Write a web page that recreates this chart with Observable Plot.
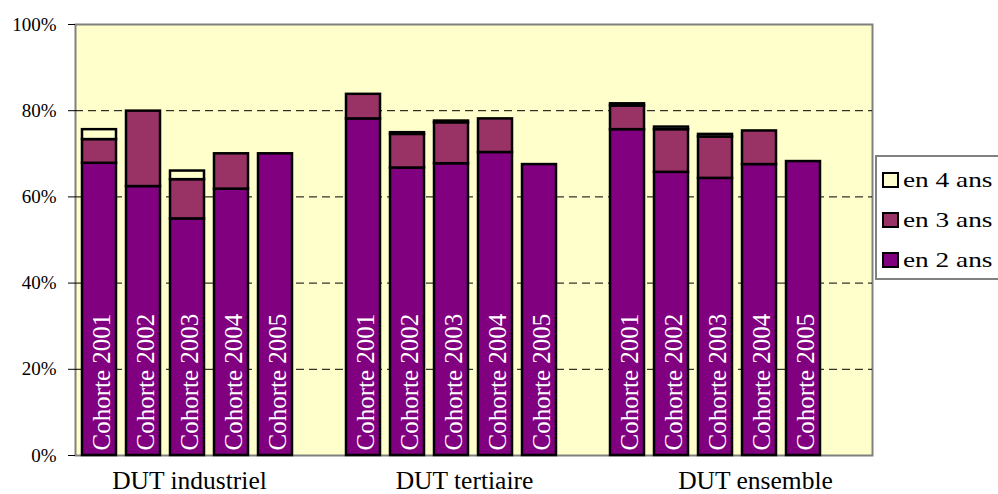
<!DOCTYPE html>
<html><head><meta charset="utf-8">
<script src="https://cdn.jsdelivr.net/npm/d3@7"></script>
<script src="https://cdn.jsdelivr.net/npm/@observablehq/plot@0.6"></script>
<style>
html,body{margin:0;padding:0;background:#fff;}
#wrap{position:relative;width:998px;height:494px;overflow:hidden;font-family:"Liberation Serif","Times New Roman",serif;}
#legend{position:absolute;left:875px;top:155px;width:140px;height:125px;border:2px solid #808080;background:#fff;box-sizing:border-box;}
.item{position:absolute;left:5px;display:flex;align-items:center;height:20px;}
.sw{width:17px;height:16px;border:2px solid #000;box-sizing:border-box;}
.lab{font-size:21px;margin-left:4px;transform:scaleX(1.3);transform-origin:left center;white-space:nowrap;color:#000;}
</style></head><body><div id="wrap"></div>
<script>
// ---- data ----
const groups = ["industriel", "tertiaire", "ensemble"];
const groupLabels = ["DUT industriel", "DUT tertiaire", "DUT ensemble"];
const cohorts = ["2001", "2002", "2003", "2004", "2005"];
const series = ["en 2 ans", "en 3 ans", "en 4 ans"];
const colors = ["#800080", "#993366", "#FFFFCC"];
const en2 = [[67.8, 62.4, 54.9, 61.8, 70.0], [78.1, 66.7, 67.7, 70.3, 67.5], [75.6, 65.7, 64.3, 67.5, 68.2]];
const en3 = [[5.5, 17.5, 9.1, 8.2, 0], [5.7, 7.8, 9.5, 7.8, 0], [5.5, 9.9, 9.6, 7.8, 0]];
const en4 = [[2.3, 0, 2.0, 0, 0], [0, 0.4, 0.4, 0, 0], [0.5, 0.6, 0.6, 0, 0]];
const yTicks = [0, 20, 40, 60, 80, 100];
const gridTicks = [20, 40, 60, 80];
const labelSlots = [["industriel", "2003"], ["tertiaire", "2003"], ["ensemble", "2004"]];
const labelShift = [2, 13, -4];

// ---- derived tables ----
const key = (g, c) => g + "|" + c;
const slots = [];
groups.forEach(g => { cohorts.forEach(c => slots.push(key(g, c))); slots.push(g + "|gap"); });
const seriesValues = [en2, en3, en4];
const segs = [];
groups.forEach((g, gi) => cohorts.forEach((c, ci) => series.forEach((s, si) => {
  const v = seriesValues[si][gi][ci];
  if (v > 0) segs.push({slot: key(g, c), series: s, value: v});
})));
const bars = [];
groups.forEach(g => cohorts.forEach(c => bars.push({slot: key(g, c), label: "Cohorte " + c})));

const font = "'Liberation Serif','Times New Roman',serif";
const chart = Plot.plot({
  width: 998, height: 494,
  marginLeft: 75, marginRight: 126, marginTop: 24, marginBottom: 39,
  style: {fontFamily: font, fontSize: "19px", color: "#000", background: "transparent"},
  x: {type: "band", domain: slots, paddingInner: 0.22, paddingOuter: 0.11, axis: null},
  y: {domain: [0, 100]},
  color: {domain: series, range: colors},
  marks: [
    Plot.frame({fill: "#FFFFCC", stroke: "#808080", strokeWidth: 2}),
    Plot.ruleY(gridTicks, {stroke: "#000", strokeWidth: 1, strokeDasharray: "8,5"}),
    Plot.axisY({ticks: yTicks, tickFormat: d => d + "%", tickSize: 7, tickPadding: 12, label: null, fontSize: 19, stroke: "#000"}),
    Plot.barY(segs, {x: "slot", y: "value", fill: "series", stroke: "#000", strokeWidth: 2.5}),
    Plot.text(bars, {x: "slot", y: 0, text: "label", rotate: -90, textAnchor: "start", lineAnchor: "middle", fill: "#fff", fontSize: 25, dy: -5, dx: 2}),
    ...groupLabels.map((lab, i) => Plot.text([lab], {x: () => key(...labelSlots[i]), y: 0, text: d => d, fontSize: 25.5, dy: 25, dx: labelShift[i], fill: "#000"}))
  ]
});
const wrap = document.getElementById("wrap");
wrap.appendChild(chart);

// legend (right side, over the chart margin)
const legend = document.createElement("div");
legend.id = "legend";
const order = [2, 1, 0];
const tops = [13, 53, 93];
order.forEach((si, r) => {
  const it = document.createElement("div");
  it.className = "item";
  it.style.top = tops[r] + "px";
  const sw = document.createElement("div");
  sw.className = "sw";
  sw.style.background = colors[si];
  const lb = document.createElement("span");
  lb.className = "lab";
  lb.textContent = series[si];
  it.appendChild(sw); it.appendChild(lb);
  legend.appendChild(it);
});
wrap.appendChild(legend);
</script></body></html>
